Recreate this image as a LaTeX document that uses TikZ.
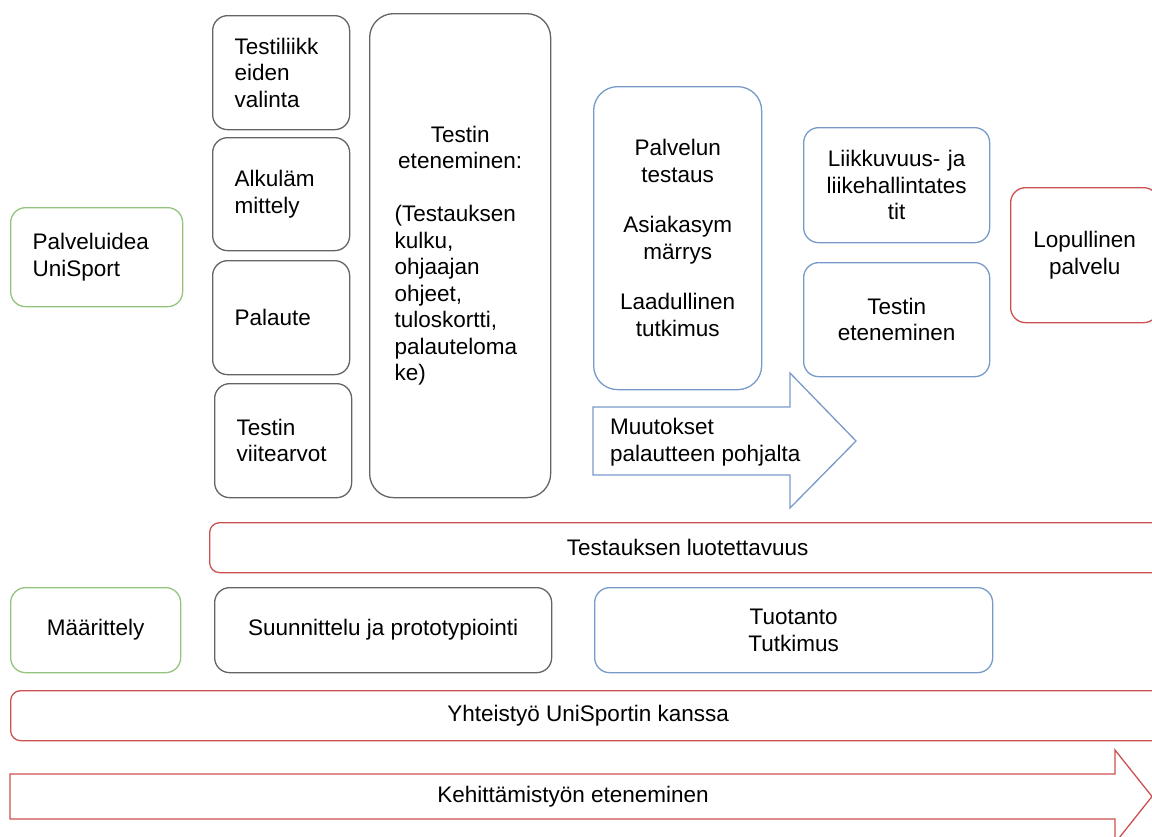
\documentclass[tikz,border=0pt]{standalone}
\usepackage{fontspec}
\setmainfont{Liberation Sans}
\usetikzlibrary{positioning}
\definecolor{vihrea}{RGB}{147,196,125}
\definecolor{sininen}{RGB}{120,154,200}
\definecolor{punainen}{RGB}{204,80,80}
\definecolor{harmaa}{RGB}{100,100,100}
\tikzset{
  teksti/.style={font=\fontsize{22.5}{26.5}\selectfont},
  box/.style={teksti, draw, rounded corners=15pt, line width=1.3pt, anchor=north west, inner ysep=0pt},
  leftbox/.style={box, align=left, inner xsep=22pt},
  midbox/.style={box, align=center, inner xsep=13pt},
  bar/.style={box, rounded corners=10pt, draw=punainen, align=center}
}
\begin{document}
\begin{tikzpicture}[x=1pt, y=-1pt]
  \useasboundingbox (0,0) rectangle (1152,836);
  % alku: idea ja suunnittelu
  \node[leftbox, draw=vihrea, text width=128, minimum height=99] (idea) at (10,207) {Palveluidea\\UniSport};
  \node[leftbox, draw=harmaa, text width=93, minimum height=114] (valinta) at (212,15) {Testiliikk\\eiden\\valinta};
  \node[leftbox, draw=harmaa, text width=93, minimum height=113] (alku) at (212,137) {Alkuläm\\mittely};
  \node[leftbox, draw=harmaa, text width=93, minimum height=114] (palaute) at (212,260) {Palaute};
  \node[leftbox, draw=harmaa, text width=93, minimum height=114] (viite) at (214,383) {Testin\\viitearvot};
  \node[box, draw=harmaa, rounded corners=24pt, inner xsep=25pt, text width=131, minimum height=484] (kulku) at (369,13)
    {{\centering Testin\\eteneminen:\par}\vspace{26.5pt}{\raggedright (Testauksen\\kulku,\\ohjaajan\\ohjeet,\\tuloskortti,\\palauteloma\\ke)\par}};
  % tuotanto
  \node[midbox, draw=sininen, rounded corners=24pt, text width=142, minimum height=303] (testaus) at (593,86)
    {Palvelun\\testaus\\[24pt]Asiakasym\\märrys\\[24pt]Laadullinen\\tutkimus};
  \node[midbox, draw=sininen, text width=160, minimum height=115] (liike) at (803,127) {Liikkuvuus- ja\\liikehallintates\\tit};
  \node[midbox, draw=sininen, text width=160, minimum height=114] (eten) at (803,262) {Testin\\eteneminen};
  \node[midbox, draw=punainen, text width=122, minimum height=135] (lopullinen) at (1010,187) {Lopullinen\\palvelu};
  \draw[sininen, line width=1.3pt] (593,407) -- (790,407) -- (790,373) -- (856,441) -- (790,508) -- (790,475) -- (593,475) -- cycle;
  \node[teksti, anchor=west, align=left, inner sep=0pt] (muutokset) at (610,442) {Muutokset\\palautteen pohjalta};
  % vaiheet
  \node[bar, minimum width=956, minimum height=50] (luotettavuus) at (209,522) {Testauksen luotettavuus};
  \node[midbox, draw=vihrea, minimum width=170, minimum height=85] (maarittely) at (10,587) {Määrittely};
  \node[midbox, draw=harmaa, minimum width=337, minimum height=85] (suunnittelu) at (214,587) {Suunnittelu ja prototypiointi};
  \node[midbox, draw=sininen, minimum width=398, minimum height=85] (tuotanto) at (594,587) {Tuotanto\\Tutkimus};
  \node[bar, minimum width=1155, minimum height=50] (yhteistyo) at (10,690) {Yhteistyö UniSportin kanssa};
  \draw[punainen, line width=1.3pt] (10,774) -- (1115,774) -- (1115,750) -- (1152,796.5) -- (1115,843) -- (1115,819) -- (10,819) -- cycle;
  \node[teksti] (kehitys) at (573,796.5) {Kehittämistyön eteneminen};
\end{tikzpicture}
\end{document}
